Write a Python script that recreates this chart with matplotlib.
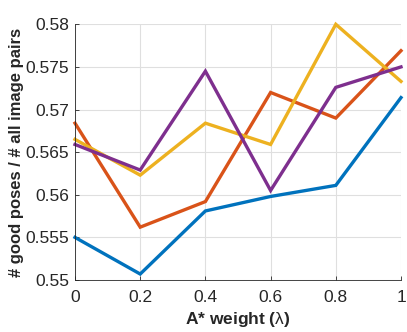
import numpy as np
import matplotlib.pyplot as plt

plt.rcParams['font.family'] = ['Liberation Sans', 'DejaVu Sans']
plt.rcParams['mathtext.fontset'] = 'custom'
plt.rcParams['mathtext.rm'] = 'Liberation Sans'

lam = [0, 0.2, 0.4, 0.6, 0.8, 1.0]
blue = [0.5550, 0.5507, 0.5581, 0.5598, 0.5611, 0.5714]
orange = [0.5684, 0.5562, 0.5592, 0.5720, 0.5690, 0.5769]
yellow = [0.5665, 0.5623, 0.5684, 0.5659, 0.5800, 0.5733]
purple = [0.5659, 0.5629, 0.5745, 0.5605, 0.5726, 0.5750]

colorspec = [
    np.array([0, 114, 189]) / 255,
    np.array([217, 83, 25]) / 255,
    np.array([237, 177, 32]) / 255,
    np.array([126, 47, 142]) / 255,
]

fig = plt.figure(figsize=(4.07, 3.32), dpi=100)
ax = fig.add_axes([75 / 407, 1 - 280 / 332, 326 / 407, 255.7 / 332])

for y, c in zip([blue, orange, yellow, purple], colorspec):
    ax.plot(lam, y, color=c, linewidth=2.4, solid_joinstyle='miter', clip_on=False)

ax.set_xlim(0, 1)
ax.set_ylim(0.55, 0.58)
ax.set_xticks(lam)
ax.set_xticklabels(['0', '0.2', '0.4', '0.6', '0.8', '1'])
yt = [0.55, 0.555, 0.56, 0.565, 0.57, 0.575, 0.58]
ax.set_yticks(yt)
ax.set_yticklabels(['0.55', '0.555', '0.56', '0.565', '0.57', '0.575', '0.58'])
ax.grid(True, color='#dfdfdf', linewidth=0.8)
ax.set_axisbelow(True)
for s in ['top', 'right']:
    ax.spines[s].set_visible(False)
for s in ['left', 'bottom']:
    ax.spines[s].set_color('#262626')
    ax.spines[s].set_linewidth(0.6)
ax.tick_params(direction='in', length=3, width=0.6, colors='#262626', labelsize=12.5)
ax.tick_params(axis='x', pad=7)
ax.tick_params(axis='y', pad=4)
ax.set_xlabel('A* weight ($\\mathrm{\\lambda}$)', fontsize=12.5, fontweight='bold', color='#262626', labelpad=4)
ax.set_ylabel('# good poses / # all image pairs', fontsize=12, fontweight='bold', color='#262626', labelpad=1)

fig.savefig('out.png', dpi=100)
